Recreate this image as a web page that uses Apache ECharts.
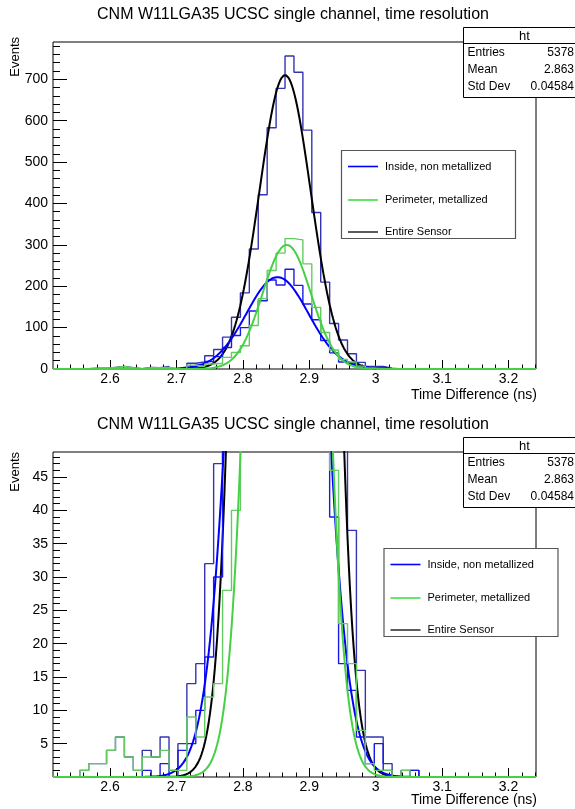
<!DOCTYPE html>
<html><head><meta charset="utf-8">
<script src="https://cdn.jsdelivr.net/npm/echarts@6/dist/echarts.min.js"></script>
<style>html,body{margin:0;padding:0;background:#fff}#c{width:575px;height:809px}</style>
</head><body><div id="c"></div>
<script>
// ---------------- data ----------------
const BIN_START = 2.514;      // ns, lower edge of first bin
const BIN_WIDTH = 0.01344;    // ns
const entireCounts = [0,0,0,1,2,2,4,6,3,1,4,3,6,1,5,14,17,32,47,77,125,184,290,421,583,678,756,717,577,378,210,110,70,37,16,6,6,2,0,1,1,0,0,0,0,0,0,0,0,0,0,0,0,0];
const insideCounts = [0,0,0,0,0,0,0,0,0,0,1,0,2,0,4,5,10,18,30,52,81,100,140,165,215,203,241,202,157,119,69,39,17,13,6,2,5,1,0,0,1,0,0,0,0,0,0,0,0,0,0,0,0,0];
const perimeterCounts = [0,0,0,1,2,2,4,6,3,1,3,3,4,1,1,9,6,12,14,28,40,56,105,170,238,280,315,312,254,149,88,46,23,17,7,2,1,1,0,1,0,0,0,0,0,0,0,0,0,0,0,0,0,0];
// Gaussian fit parameters [constant, mean, sigma] as drawn in the picture
const entireFit = [710, 2.8635, 0.0385];
const insideFit = [222, 2.852, 0.0465];
const perimeterFit = [300, 2.866, 0.0365];
const seriesNames = ['Inside, non metallized', 'Perimeter, metallized', 'Entire Sensor'];
const xTickValues = [2.6, 2.7, 2.8, 2.9, 3.0, 3.1, 3.2];
const yTickValuesTop = [0, 100, 200, 300, 400, 500, 600, 700];
const yTickValuesBottom = [5, 10, 15, 20, 25, 30, 35, 40, 45];
const statsRows = [['Entries', '5378'], ['Mean', '2.863'], ['Std Dev', '0.04584']];
const titleText = 'CNM W11LGA35 UCSC single channel, time resolution';
const xTitle = 'Time Difference (ns)';
const yTitle = 'Events';

// ---------------- layout / style ----------------
const X_MIN = 2.514, X_MAX = 3.2414;
const FONT = '"Liberation Sans", Arial, Helvetica, sans-serif';
const C_ENTIRE_H = '#3434b0', C_INSIDE_H = '#1a1ae8', C_PERIM_H = '#62cc62';
const C_INSIDE_F = '#0000ff', C_PERIM_F = '#45d045', C_ENTIRE_F = '#000000';

const xMinor = [];
for (let n = 126; n <= 162; n++) if (n % 5 !== 0) xMinor.push(+(n * 0.02).toFixed(2));
const yMinorTop = [];
for (let v = 20; v < 790; v += 20) if (v % 100 !== 0) yMinorTop.push(v);
const yMinorBottom = [];
for (let v = 1; v < 49; v++) if (v % 5 !== 0) yMinorBottom.push(v);

function histPoints(counts) {
  const pts = counts.map((v, k) => [BIN_START + k * BIN_WIDTH, v]);
  pts.push([BIN_START + counts.length * BIN_WIDTH, counts[counts.length - 1]]);
  return pts;
}
function fitPoints(p) {
  const pts = [];
  for (let i = 0; i <= 400; i++) {
    const x = X_MIN + (X_MAX - X_MIN) * i / 400;
    pts.push([x, p[0] * Math.exp(-Math.pow(x - p[1], 2) / (2 * p[2] * p[2]))]);
  }
  return pts;
}

function xAxesFor(g) {
  return [
    { type: 'value', gridIndex: g, position: 'bottom', min: X_MIN, max: X_MAX,
      axisLine: { show: false }, splitLine: { show: false },
      axisTick: { show: true, inside: true, length: 9, customValues: xTickValues, lineStyle: { color: '#000', width: 1 } },
      axisLabel: { show: true, customValues: xTickValues, margin: 3, color: '#000', fontSize: 14, fontFamily: FONT,
        formatter: v => String(Math.round(v * 10) / 10) } },
    { type: 'value', gridIndex: g, position: 'bottom', min: X_MIN, max: X_MAX,
      axisLine: { show: false }, splitLine: { show: false }, axisLabel: { show: false },
      axisTick: { show: true, inside: true, length: 4.5, customValues: xMinor, lineStyle: { color: '#000', width: 1 } } }
  ];
}
function yAxesFor(g, max, major, minor) {
  return [
    { type: 'value', gridIndex: g, position: 'left', min: 0, max: max,
      axisLine: { show: false }, splitLine: { show: false },
      axisTick: { show: true, inside: true, length: 14, customValues: major, lineStyle: { color: '#000', width: 1 } },
      axisLabel: { show: true, customValues: major, margin: 5, color: '#000', fontSize: 14, fontFamily: FONT } },
    { type: 'value', gridIndex: g, position: 'left', min: 0, max: max,
      axisLine: { show: false }, splitLine: { show: false }, axisLabel: { show: false },
      axisTick: { show: true, inside: true, length: 7, customValues: minor, lineStyle: { color: '#000', width: 1 } } }
  ];
}

function panelSeries(g) {
  const xi = g * 2, yi = g * 2;
  const base = { type: 'line', xAxisIndex: xi, yAxisIndex: yi, symbol: 'none', animation: false, silent: true, clip: true };
  return [
    Object.assign({}, base, { name: 'Entire hist ' + g, step: 'end', data: histPoints(entireCounts), lineStyle: { color: C_ENTIRE_H, width: 1.4 }, itemStyle: { color: C_ENTIRE_H }, z: 2 }),
    Object.assign({}, base, { name: seriesNames[2] + (g ? ' ' : ''), data: fitPoints(entireFit), lineStyle: { color: C_ENTIRE_F, width: 2 }, itemStyle: { color: C_ENTIRE_F }, z: 3 }),
    Object.assign({}, base, { name: 'Inside hist ' + g, step: 'end', data: histPoints(insideCounts), lineStyle: { color: C_INSIDE_H, width: 1.4 }, itemStyle: { color: C_INSIDE_H }, z: 4 }),
    Object.assign({}, base, { name: seriesNames[0] + (g ? ' ' : ''), data: fitPoints(insideFit), lineStyle: { color: C_INSIDE_F, width: 2 }, itemStyle: { color: C_INSIDE_F }, z: 5 }),
    Object.assign({}, base, { name: 'Perimeter hist ' + g, step: 'end', data: histPoints(perimeterCounts), lineStyle: { color: C_PERIM_H, width: 1.4 }, itemStyle: { color: C_PERIM_H }, z: 6 }),
    Object.assign({}, base, { name: seriesNames[1] + (g ? ' ' : ''), data: fitPoints(perimeterFit), lineStyle: { color: C_PERIM_F, width: 2 }, itemStyle: { color: C_PERIM_F }, z: 7 })
  ];
}

function statsBox(top) {
  const left = 463.5, w = 122, h = 70;
  const els = [
    { type: 'rect', shape: { x: left, y: top, width: w, height: h }, style: { fill: '#fff', stroke: '#000', lineWidth: 1 }, z: 100 },
    { type: 'line', shape: { x1: left, y1: top + 16, x2: left + w, y2: top + 16 }, style: { stroke: '#000', lineWidth: 1 }, z: 101 },
    { type: 'text', x: left + w / 2, y: top + 8.5, style: { text: 'ht', fill: '#000', font: '13px ' + FONT, textAlign: 'center', textVerticalAlign: 'middle' }, z: 101 }
  ];
  statsRows.forEach((r, i) => {
    const y = top + 25 + i * 17;
    els.push({ type: 'text', x: left + 4, y: y, style: { text: r[0], fill: '#000', font: '12px ' + FONT, textAlign: 'left', textVerticalAlign: 'middle' }, z: 101 });
    els.push({ type: 'text', x: 574, y: y, style: { text: r[1], fill: '#000', font: '12px ' + FONT, textAlign: 'right', textVerticalAlign: 'middle' }, z: 101 });
  });
  return els;
}

function legendBox(left, top) {
  const w = 174, h = 88;
  const rows = [16, 49.5, 81.5];
  const colors = [C_INSIDE_F, '#44dd44', '#333333'];
  const els = [
    { type: 'rect', shape: { x: left, y: top, width: w, height: h }, style: { fill: '#fff', stroke: '#555', lineWidth: 1.2 }, z: 100 }
  ];
  seriesNames.forEach((name, i) => {
    const y = top + rows[i];
    els.push({ type: 'line', shape: { x1: left + 6.5, y1: y, x2: left + 36.5, y2: y }, style: { stroke: colors[i], lineWidth: 1.6 }, z: 101 });
    els.push({ type: 'text', x: left + 43.5, y: y, style: { text: name, fill: '#000', font: '11px ' + FONT, textAlign: 'left', textVerticalAlign: 'middle' }, z: 101 });
  });
  return els;
}

function panelTexts(titleY, frameTop, xTitleY) {
  return [
    { type: 'text', x: 293, y: titleY, style: { text: titleText, fill: '#000', font: '16px ' + FONT, textAlign: 'center', textVerticalAlign: 'middle' }, z: 100 },
    { type: 'text', x: 537, y: xTitleY, style: { text: xTitle, fill: '#000', font: '14px ' + FONT, textAlign: 'right', textVerticalAlign: 'middle' }, z: 100 },
    { type: 'text', x: 15, y: frameTop, rotation: Math.PI / 2, style: { text: yTitle, fill: '#000', font: '13px ' + FONT, textAlign: 'right', textVerticalAlign: 'middle' }, z: 100 }
  ];
}

const chart = echarts.init(document.getElementById('c'), null, { renderer: 'canvas' });
chart.setOption({
  animation: false,
  backgroundColor: '#ffffff',
  grid: [
    { left: 53, top: 42, width: 483, height: 327, show: true, borderColor: '#000', borderWidth: 1, backgroundColor: 'transparent', containLabel: false, outerBoundsMode: 'none' },
    { left: 53, top: 452, width: 483, height: 325, show: true, borderColor: '#000', borderWidth: 1, backgroundColor: 'transparent', containLabel: false, outerBoundsMode: 'none' }
  ],
  xAxis: xAxesFor(0).concat(xAxesFor(1)),
  yAxis: yAxesFor(0, 790, yTickValuesTop, yMinorTop).concat(yAxesFor(1, 48.75, yTickValuesBottom, yMinorBottom)),
  series: panelSeries(0).concat(panelSeries(1)),
  graphic: { elements: []
    .concat(panelTexts(15, 37, 395))
    .concat(panelTexts(425, 452, 800))
    .concat(statsBox(27.5))
    .concat(statsBox(437.5))
    .concat(legendBox(341.5, 150.5))
    .concat(legendBox(384, 548.5)) }
});
</script></body></html>
